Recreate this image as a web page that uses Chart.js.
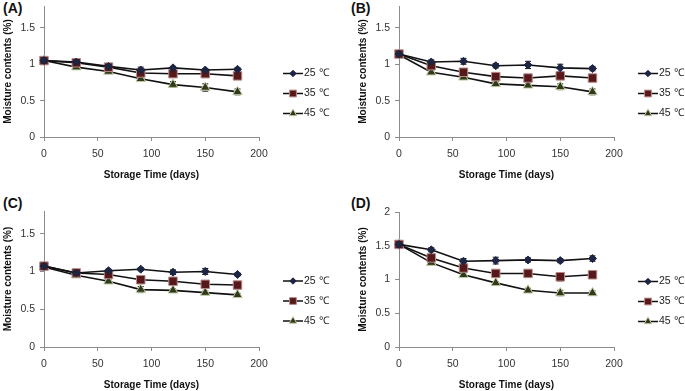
<!DOCTYPE html>
<html>
<head>
<meta charset="utf-8">
<script src="https://cdn.jsdelivr.net/npm/chart.js@4/dist/chart.umd.min.js"></script>
<style>
body{margin:0;background:#fff;width:685px;height:391px;overflow:hidden;position:relative;font-family:'Liberation Sans',Arial,sans-serif}
canvas{position:absolute}
.tag{position:absolute;font-weight:bold;font-size:14px;line-height:16px;color:#111}
</style>
</head>
<body>
<div class="tag" style="left:3px;top:0px">(A)</div>
<div class="tag" style="left:351px;top:0px">(B)</div>
<div class="tag" style="left:3px;top:195px">(C)</div>
<div class="tag" style="left:351px;top:195px">(D)</div>
<canvas id="cA"></canvas>
<canvas id="cB"></canvas>
<canvas id="cC"></canvas>
<canvas id="cD"></canvas>
<script>
// ========== DATA ==========
const days = [0, 30, 60, 90, 120, 150, 180];
const seriesLabels = ['25 ℃', '35 ℃', '45 ℃'];

const a25 = [1.05, 1.03, 0.97, 0.92, 0.95, 0.92, 0.93];
const a35 = [1.05, 1.02, 0.96, 0.88, 0.87, 0.87, 0.84];
const a45 = [1.05, 0.96, 0.90, 0.80, 0.72, 0.68, 0.62];

const b25 = [1.14, 1.03, 1.04, 0.98, 0.99, 0.95, 0.94];
const b35 = [1.14, 0.98, 0.89, 0.83, 0.81, 0.84, 0.81];
const b45 = [1.13, 0.89, 0.82, 0.73, 0.71, 0.69, 0.62];

const c25 = [1.07, 0.98, 1.01, 1.03, 0.99, 1.00, 0.96];
const c35 = [1.07, 0.98, 0.96, 0.89, 0.87, 0.83, 0.82];
const c45 = [1.06, 0.95, 0.87, 0.76, 0.75, 0.72, 0.69];

const d25 = [1.52, 1.44, 1.27, 1.28, 1.29, 1.28, 1.31];
const d35 = [1.52, 1.32, 1.17, 1.09, 1.09, 1.04, 1.07];
const d45 = [1.52, 1.25, 1.07, 0.95, 0.84, 0.80, 0.80];

// error bars (± value)
const aErr = [[0.02,0.02,0.02,0.04,0.02,0.02,0.02],[0.02,0.02,0.02,0.03,0.02,0.02,0.02],[0.02,0.02,0.02,0.02,0.04,0.05,0.04]];
const bErr = [[0.03,0.03,0.04,0.03,0.05,0.05,0.03],[0.03,0.02,0.02,0.02,0.02,0.02,0.02],[0.03,0.02,0.02,0.03,0.02,0.04,0.04]];
const cErr = [[0.02,0.02,0.02,0.02,0.03,0.04,0.02],[0.02,0.02,0.02,0.03,0.02,0.02,0.04],[0.02,0.02,0.02,0.04,0.02,0.02,0.02]];
const dErr = [[0.02,0.03,0.04,0.05,0.03,0.03,0.04],[0.02,0.03,0.03,0.03,0.03,0.06,0.03],[0.02,0.03,0.03,0.02,0.03,0.04,0.03]];

const xTicks = [0, 50, 100, 150, 200];

// ========== STYLE ==========
const FONT = "'Liberation Sans', Arial, sans-serif";
const axisColor = '#8c8c8c';
const markers = [
  {pointStyle:'rectRot', pointRadius:4, pointBackgroundColor:'#1c2541', pointBorderColor:'#1c2541'},
  {pointStyle:'rect', pointRadius:6, pointBackgroundColor:'#561818', pointBorderColor:'#b88a8a'},
  {pointStyle:'triangle', pointRadius:5.5, pointBackgroundColor:'#2f3a1c', pointBorderColor:'#c4cca4'}
];

// plot area in page pixels: left, top, right, bottom
const panels = [
  {id:'cA', plot:[44, 6, 259, 137], max:1.8, series:[a25, a35, a45], err:aErr},
  {id:'cB', plot:[399, 6, 614, 137], max:1.8, series:[b25, b35, b45], err:bErr},
  {id:'cC', plot:[44, 211, 259, 347], max:1.8, series:[c25, c35, c45], err:cErr},
  {id:'cD', plot:[399, 212, 614, 347], max:2, series:[d25, d35, d45], err:dErr}
];

const LEFT = 60, TOP = 15, RIGHT = 110, BOTTOM = 60;

// ========== PLUGINS ==========
const errorBars = {
  id:'errorBars',
  beforeDatasetsDraw(chart){
    const {ctx, scales:{x, y}} = chart;
    ctx.save();
    ctx.strokeStyle = '#111';
    ctx.lineWidth = 1;
    chart.data.datasets.forEach(ds=>{
      ds.data.forEach((p, j)=>{
        const e = ds.errors[j];
        const px = x.getPixelForValue(p.x);
        const top = y.getPixelForValue(p.y + e);
        const bot = y.getPixelForValue(p.y - e);
        ctx.beginPath();
        ctx.moveTo(px, top); ctx.lineTo(px, bot);
        ctx.moveTo(px-3, top); ctx.lineTo(px+3, top);
        ctx.moveTo(px-3, bot); ctx.lineTo(px+3, bot);
        ctx.stroke();
      });
    });
    ctx.restore();
  }
};

const sideLegend = {
  id:'sideLegend',
  afterDraw(chart){
    const {ctx, chartArea} = chart;
    const mid = (chartArea.top + chartArea.bottom) / 2;
    chart.data.datasets.forEach((ds, i)=>{
      const y = mid + 2 + i * 20;
      const x0 = chartArea.right + 24;
      ctx.save();
      ctx.strokeStyle = '#111';
      ctx.lineWidth = 1.5;
      ctx.beginPath(); ctx.moveTo(x0, y); ctx.lineTo(x0 + 20, y); ctx.stroke();
      ctx.fillStyle = ds.pointBackgroundColor;
      ctx.strokeStyle = ds.pointBorderColor;
      ctx.lineWidth = 1;
      Chart.helpers.drawPoint(ctx, {pointStyle: ds.pointStyle, radius: ds.pointRadius * 0.8, borderWidth: 1, rotation: 0}, x0 + 10, y);
      ctx.fillStyle = '#222';
      ctx.font = '10.5px ' + FONT;
      ctx.textBaseline = 'middle';
      ctx.fillText(ds.label, x0 + 21, y);
      ctx.restore();
    });
  }
};

// ========== CHARTS ==========
panels.forEach(p=>{
  const [l, t, r, b] = p.plot;
  const cv = document.getElementById(p.id);
  cv.width = (r - l) + LEFT + RIGHT;
  cv.height = (b - t) + TOP + BOTTOM;
  cv.style.left = (l - LEFT) + 'px';
  cv.style.top = (t - TOP) + 'px';

  const datasets = p.series.map((vals, i)=>Object.assign({
    label: seriesLabels[i],
    data: vals.map((v, j)=>({x: days[j], y: v})),
    errors: p.err[i],
    borderColor: '#111',
    borderWidth: 1.6,
    pointBorderWidth: 1,
    clip: false
  }, markers[i]));

  new Chart(cv, {
    type:'line',
    data:{datasets},
    plugins:[errorBars, sideLegend],
    options:{
      responsive:false,
      animation:false,
      devicePixelRatio:1,
      layout:{padding:{left:0, top:TOP, right:RIGHT, bottom:0}},
      plugins:{legend:{display:false}, tooltip:{enabled:false}},
      scales:{
        x:{
          type:'linear', min:0, max:200,
          afterBuildTicks(s){ s.ticks = xTicks.map(v=>({value:v})); },
          ticks:{padding:7, color:'#333', font:{family:FONT, size:10.5}, callback:v=>String(v)},
          grid:{drawOnChartArea:false, drawTicks:true, tickLength:4, color:axisColor},
          border:{color:axisColor},
          title:{display:true, text:'Storage Time (days)', color:'#111', font:{family:FONT, size:10, weight:'bold'}, padding:{top:0, bottom:16}},
          afterFit(s){ s.height = BOTTOM; }
        },
        y:{
          min:0, max:p.max,
          ticks:{stepSize:0.5, includeBounds:false, padding:5, color:'#333', font:{family:FONT, size:10.5}, callback:v=>String(v)},
          grid:{drawOnChartArea:false, drawTicks:true, tickLength:4, color:axisColor},
          border:{color:axisColor},
          title:{display:true, text:'Moisture contents (%)', color:'#111', font:{family:FONT, size:10, weight:'bold'}, padding:{top:18, bottom:0}},
          afterFit(s){ s.width = LEFT; }
        }
      }
    }
  });
});
</script>
</body>
</html>
